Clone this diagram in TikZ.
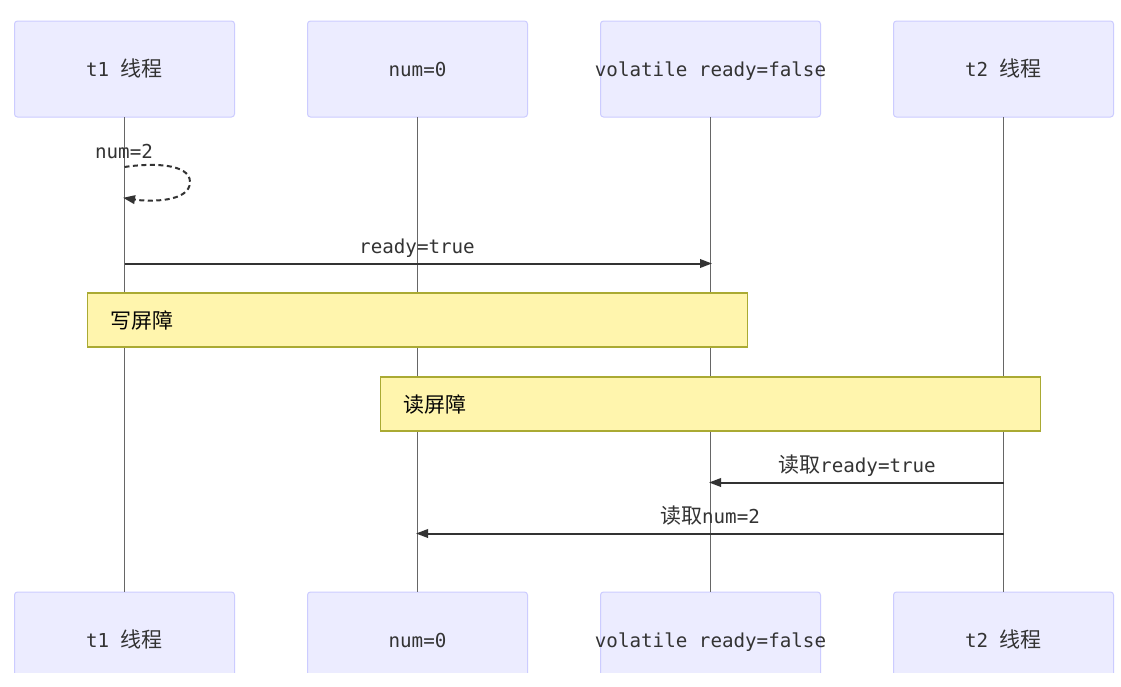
\documentclass[tikz,border=0pt]{standalone}
\usepackage{fontspec}
\setmonofont{DejaVu Sans Mono}
\newfontfamily\cjkfam{Noto Sans CJK SC}
\usetikzlibrary{arrows.meta}
\definecolor{actorfill}{HTML}{ECECFF}
\definecolor{actorline}{HTML}{CCCCFF}
\definecolor{notefill}{HTML}{FFF5AD}
\definecolor{noteline}{HTML}{AAAA33}
\definecolor{ink}{HTML}{333333}
\definecolor{lifecol}{HTML}{666666}
\newcommand{\monof}{\ttfamily\fontsize{19.2}{23}\selectfont}
\newcommand{\zh}[1]{{\cjkfam\fontsize{21}{23}\selectfont #1}}
\tikzset{
  actorbox/.style={draw=actorline,fill=actorfill,rounded corners=3pt,line width=1pt,
    minimum width=220pt,minimum height=96pt,outer sep=0pt,inner sep=0pt,
    text height=15pt,text depth=0pt,font=\monof,text=ink},
  lifeline/.style={draw=lifecol,line width=1.1pt},
  msg/.style={draw=ink,line width=2pt,shorten >=-1.5pt,-{Triangle[length=12pt,width=8.5pt]}},
  selfmsg/.style={msg,dash pattern=on 5pt off 3.5pt},
  msglabel/.style={font=\monof,text=ink,inner sep=0pt,anchor=base},
  notebox/.style={draw=noteline,fill=notefill,line width=1.3pt,anchor=north west,
    minimum height=54pt,text width=615pt,align=left,inner xsep=22.5pt,inner ysep=0pt,
    outer sep=0pt,text height=17pt,text depth=0pt,text=black!90!ink,font=\monof},
}
\begin{document}
\begin{tikzpicture}[x=1pt,y=-1pt]
\useasboundingbox (0,0) rectangle (1121,686);
\fill[white] (0,0) rectangle (1121,686);
\begin{scope}
\clip (0,0) rectangle (1121,672);
\node[actorbox] (t1top) at (124.5,69) {t1 \zh{线程}};
\node[actorbox] (numtop) at (417.5,69) {num=0};
\node[actorbox] (readytop) at (710.5,69) {\makebox[0pt]{volatile ready=false}};
\node[actorbox] (t2top) at (1003.5,69) {t2 \zh{线程}};
\node[actorbox] (t1bot) at (124.5,640) {t1 \zh{线程}};
\node[actorbox] (numbot) at (417.5,640) {num=0};
\node[actorbox] (readybot) at (710.5,640) {\makebox[0pt]{volatile ready=false}};
\node[actorbox] (t2bot) at (1003.5,640) {t2 \zh{线程}};
\end{scope}
\draw[lifeline] (t1top.south) -- (t1bot.north);
\draw[lifeline] (numtop.south) -- (numbot.north);
\draw[lifeline] (readytop.south) -- (readybot.north);
\draw[lifeline] (t2top.south) -- (t2bot.north);
% self message
\coordinate (selfa) at (t1top.south |- 0,167);
\coordinate (selfb) at (t1top.south |- 0,198);
\coordinate (selfc) at (190,182);
\node[msglabel] (lblself) at (124,158.5) {num=2};
\draw[selfmsg] (selfa) .. controls (150,163) and (190,163) .. (selfc)
  .. controls (190,202) and (150,202) .. (selfb);
% ready=true
\coordinate (ma) at (t1top.south |- 0,263.5);
\coordinate (mb) at (readytop.south |- 0,263.5);
\node[msglabel] (lblready) at (417,253) {ready=true};
\draw[msg] (ma) -- (mb);
% notes
\node[notebox] (wnote) at (87.5,293) {\zh{写屏障}};
\node[notebox] (rnote) at (380.5,377) {\zh{读屏障}};
% reads
\coordinate (ra) at (t2top.south |- 0,482.5);
\coordinate (rb) at (readytop.south |- 0,482.5);
\node[msglabel] (lblreadready) at (857,472) {\zh{读取}ready=true};
\draw[msg] (ra) -- (rb);
\coordinate (na) at (t2top.south |- 0,533.5);
\coordinate (nb) at (numtop.south |- 0,533.5);
\node[msglabel] (lblreadnum) at (710,523) {\zh{读取}num=2};
\draw[msg] (na) -- (nb);
\end{tikzpicture}
\end{document}
